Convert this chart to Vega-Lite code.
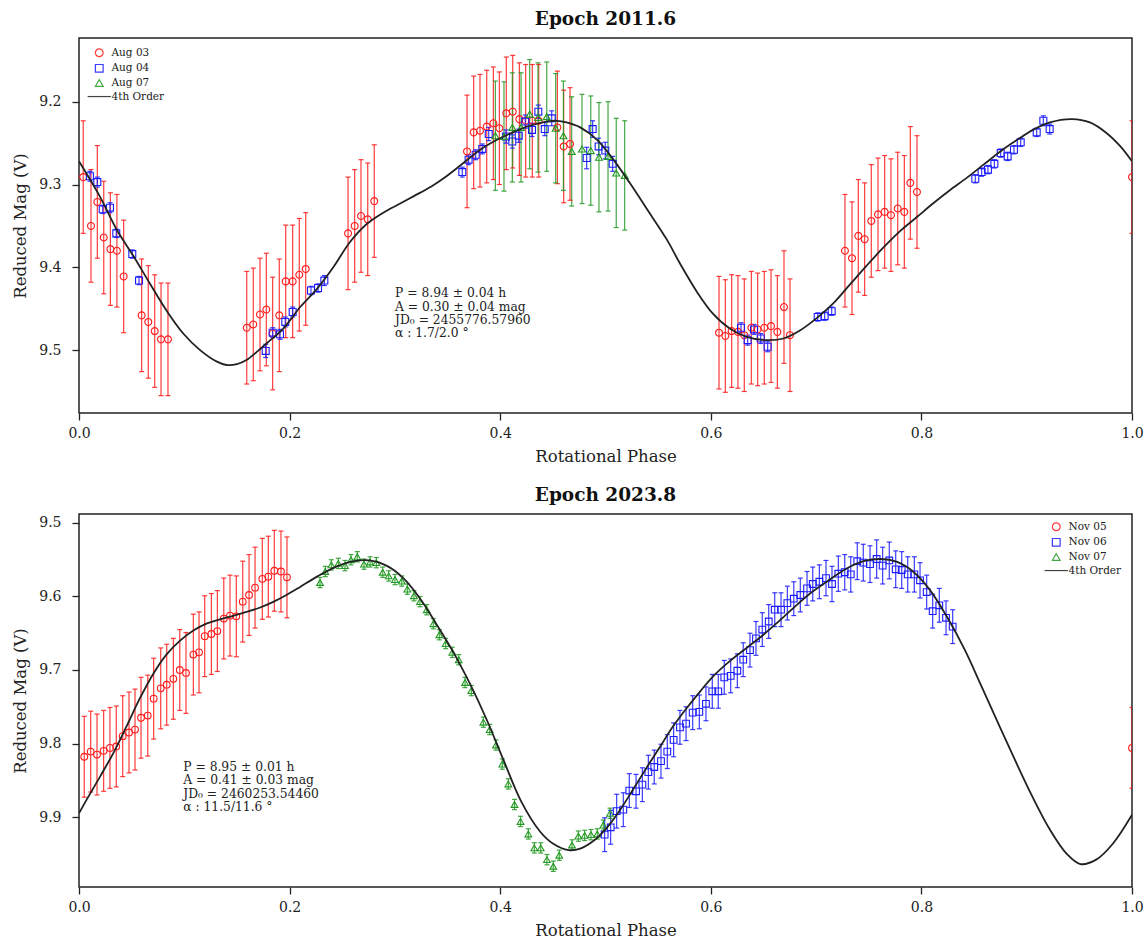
{
  "$schema": "https://vega.github.io/schema/vega-lite/v6.json",
  "background": "white",
  "padding": {"left": 11, "top": 8, "right": 5, "bottom": 5},
  "config": {
    "font": "DejaVu Serif",
    "view": {"stroke": "#222", "strokeWidth": 1.5},
    "axis": {"domain": false, "grid": false, "tickColor": "#222", "tickSize": 7, "tickWidth": 1.3, "labelFont": "DejaVu Serif", "labelFontSize": 14, "labelColor": "#222", "labelPadding": 6, "titleFont": "DejaVu Serif", "titleFontSize": 16.5, "titleFontWeight": "normal", "titleColor": "#222", "titlePadding": 8},
    "axisX": {"labelFlush": false},
    "axisY": {"labelPadding": 11, "titlePadding": 10},
    "title": {"font": "DejaVu Serif", "fontSize": 18.5, "fontWeight": "bold", "color": "#111", "offset": 10},
    "legend": {"labelFont": "DejaVu Serif", "labelFontSize": 10.5, "labelColor": "#222", "symbolSize": 60, "symbolStrokeWidth": 1.2, "rowPadding": 1.6, "labelOffset": 7, "padding": 0}
  },
  "datasets": {
    "obs2011": [
      {"label":"Aug 03","phase":0.004,"mag":9.291,"lo":9.223,"hi":9.359},
      {"label":"Aug 03","phase":0.0114,"mag":9.350,"lo":9.282,"hi":9.418},
      {"label":"Aug 03","phase":0.0174,"mag":9.321,"lo":9.253,"hi":9.389},
      {"label":"Aug 03","phase":0.0235,"mag":9.364,"lo":9.296,"hi":9.432},
      {"label":"Aug 03","phase":0.0298,"mag":9.378,"lo":9.310,"hi":9.446},
      {"label":"Aug 03","phase":0.036,"mag":9.380,"lo":9.312,"hi":9.448},
      {"label":"Aug 03","phase":0.0424,"mag":9.411,"lo":9.343,"hi":9.479},
      {"label":"Aug 03","phase":0.0595,"mag":9.458,"lo":9.390,"hi":9.526},
      {"label":"Aug 03","phase":0.0658,"mag":9.466,"lo":9.398,"hi":9.534},
      {"label":"Aug 03","phase":0.0719,"mag":9.477,"lo":9.409,"hi":9.545},
      {"label":"Aug 03","phase":0.0779,"mag":9.487,"lo":9.419,"hi":9.555},
      {"label":"Aug 03","phase":0.0845,"mag":9.487,"lo":9.419,"hi":9.555},
      {"label":"Aug 03","phase":0.1593,"mag":9.473,"lo":9.405,"hi":9.541},
      {"label":"Aug 03","phase":0.1655,"mag":9.469,"lo":9.401,"hi":9.537},
      {"label":"Aug 03","phase":0.1719,"mag":9.457,"lo":9.389,"hi":9.525},
      {"label":"Aug 03","phase":0.1779,"mag":9.451,"lo":9.383,"hi":9.519},
      {"label":"Aug 03","phase":0.1839,"mag":9.480,"lo":9.412,"hi":9.548},
      {"label":"Aug 03","phase":0.1902,"mag":9.458,"lo":9.390,"hi":9.526},
      {"label":"Aug 03","phase":0.1963,"mag":9.417,"lo":9.349,"hi":9.485},
      {"label":"Aug 03","phase":0.2029,"mag":9.417,"lo":9.349,"hi":9.485},
      {"label":"Aug 03","phase":0.2092,"mag":9.409,"lo":9.341,"hi":9.477},
      {"label":"Aug 03","phase":0.2153,"mag":9.402,"lo":9.334,"hi":9.470},
      {"label":"Aug 03","phase":0.2555,"mag":9.359,"lo":9.291,"hi":9.427},
      {"label":"Aug 03","phase":0.2618,"mag":9.350,"lo":9.282,"hi":9.418},
      {"label":"Aug 03","phase":0.2678,"mag":9.338,"lo":9.270,"hi":9.406},
      {"label":"Aug 03","phase":0.2742,"mag":9.342,"lo":9.274,"hi":9.410},
      {"label":"Aug 03","phase":0.2804,"mag":9.320,"lo":9.252,"hi":9.388},
      {"label":"Aug 03","phase":0.3685,"mag":9.260,"lo":9.192,"hi":9.328},
      {"label":"Aug 03","phase":0.3748,"mag":9.237,"lo":9.169,"hi":9.305},
      {"label":"Aug 03","phase":0.3808,"mag":9.235,"lo":9.167,"hi":9.303},
      {"label":"Aug 03","phase":0.3872,"mag":9.230,"lo":9.162,"hi":9.298},
      {"label":"Aug 03","phase":0.3935,"mag":9.226,"lo":9.158,"hi":9.294},
      {"label":"Aug 03","phase":0.3992,"mag":9.232,"lo":9.164,"hi":9.300},
      {"label":"Aug 03","phase":0.4058,"mag":9.214,"lo":9.146,"hi":9.282},
      {"label":"Aug 03","phase":0.4119,"mag":9.212,"lo":9.144,"hi":9.280},
      {"label":"Aug 03","phase":0.4182,"mag":9.221,"lo":9.153,"hi":9.289},
      {"label":"Aug 03","phase":0.4242,"mag":9.223,"lo":9.155,"hi":9.291},
      {"label":"Aug 03","phase":0.4305,"mag":9.223,"lo":9.155,"hi":9.291},
      {"label":"Aug 03","phase":0.4366,"mag":9.223,"lo":9.155,"hi":9.291},
      {"label":"Aug 03","phase":0.4543,"mag":9.231,"lo":9.163,"hi":9.299},
      {"label":"Aug 03","phase":0.4603,"mag":9.254,"lo":9.186,"hi":9.322},
      {"label":"Aug 03","phase":0.4663,"mag":9.251,"lo":9.183,"hi":9.319},
      {"label":"Aug 03","phase":0.6078,"mag":9.479,"lo":9.411,"hi":9.547},
      {"label":"Aug 03","phase":0.6138,"mag":9.483,"lo":9.415,"hi":9.551},
      {"label":"Aug 03","phase":0.6198,"mag":9.477,"lo":9.409,"hi":9.545},
      {"label":"Aug 03","phase":0.6258,"mag":9.478,"lo":9.410,"hi":9.546},
      {"label":"Aug 03","phase":0.6318,"mag":9.482,"lo":9.414,"hi":9.550},
      {"label":"Aug 03","phase":0.6385,"mag":9.473,"lo":9.405,"hi":9.541},
      {"label":"Aug 03","phase":0.6445,"mag":9.475,"lo":9.407,"hi":9.543},
      {"label":"Aug 03","phase":0.6508,"mag":9.473,"lo":9.405,"hi":9.541},
      {"label":"Aug 03","phase":0.6572,"mag":9.471,"lo":9.403,"hi":9.539},
      {"label":"Aug 03","phase":0.6632,"mag":9.478,"lo":9.410,"hi":9.546},
      {"label":"Aug 03","phase":0.6695,"mag":9.448,"lo":9.380,"hi":9.516},
      {"label":"Aug 03","phase":0.6752,"mag":9.482,"lo":9.414,"hi":9.550},
      {"label":"Aug 03","phase":0.7274,"mag":9.380,"lo":9.312,"hi":9.448},
      {"label":"Aug 03","phase":0.7341,"mag":9.389,"lo":9.321,"hi":9.457},
      {"label":"Aug 03","phase":0.7401,"mag":9.362,"lo":9.294,"hi":9.430},
      {"label":"Aug 03","phase":0.7461,"mag":9.366,"lo":9.298,"hi":9.434},
      {"label":"Aug 03","phase":0.7524,"mag":9.344,"lo":9.276,"hi":9.412},
      {"label":"Aug 03","phase":0.7588,"mag":9.336,"lo":9.268,"hi":9.404},
      {"label":"Aug 03","phase":0.7651,"mag":9.333,"lo":9.265,"hi":9.401},
      {"label":"Aug 03","phase":0.7711,"mag":9.337,"lo":9.269,"hi":9.405},
      {"label":"Aug 03","phase":0.7775,"mag":9.329,"lo":9.261,"hi":9.397},
      {"label":"Aug 03","phase":0.7838,"mag":9.333,"lo":9.265,"hi":9.401},
      {"label":"Aug 03","phase":0.7895,"mag":9.298,"lo":9.230,"hi":9.366},
      {"label":"Aug 03","phase":0.7958,"mag":9.309,"lo":9.241,"hi":9.377},
      {"label":"Aug 03","phase":1.0,"mag":9.291,"lo":9.223,"hi":9.359},
      {"label":"Aug 04","phase":0.0104,"mag":9.290,"lo":9.284,"hi":9.296},
      {"label":"Aug 04","phase":0.0174,"mag":9.297,"lo":9.291,"hi":9.303},
      {"label":"Aug 04","phase":0.0225,"mag":9.330,"lo":9.325,"hi":9.335},
      {"label":"Aug 04","phase":0.0294,"mag":9.328,"lo":9.322,"hi":9.334},
      {"label":"Aug 04","phase":0.0354,"mag":9.359,"lo":9.354,"hi":9.364},
      {"label":"Aug 04","phase":0.0506,"mag":9.384,"lo":9.379,"hi":9.389},
      {"label":"Aug 04","phase":0.0570,"mag":9.416,"lo":9.411,"hi":9.421},
      {"label":"Aug 04","phase":0.1773,"mag":9.501,"lo":9.493,"hi":9.509},
      {"label":"Aug 04","phase":0.1839,"mag":9.479,"lo":9.473,"hi":9.485},
      {"label":"Aug 04","phase":0.1909,"mag":9.481,"lo":9.475,"hi":9.487},
      {"label":"Aug 04","phase":0.1959,"mag":9.466,"lo":9.460,"hi":9.472},
      {"label":"Aug 04","phase":0.2029,"mag":9.454,"lo":9.448,"hi":9.460},
      {"label":"Aug 04","phase":0.2203,"mag":9.428,"lo":9.423,"hi":9.433},
      {"label":"Aug 04","phase":0.2270,"mag":9.425,"lo":9.420,"hi":9.430},
      {"label":"Aug 04","phase":0.2330,"mag":9.416,"lo":9.410,"hi":9.422},
      {"label":"Aug 04","phase":0.3640,"mag":9.285,"lo":9.279,"hi":9.291},
      {"label":"Aug 04","phase":0.3700,"mag":9.270,"lo":9.264,"hi":9.276},
      {"label":"Aug 04","phase":0.3767,"mag":9.264,"lo":9.258,"hi":9.270},
      {"label":"Aug 04","phase":0.3830,"mag":9.257,"lo":9.251,"hi":9.263},
      {"label":"Aug 04","phase":0.3891,"mag":9.239,"lo":9.231,"hi":9.247},
      {"label":"Aug 04","phase":0.4055,"mag":9.242,"lo":9.234,"hi":9.250},
      {"label":"Aug 04","phase":0.4115,"mag":9.248,"lo":9.240,"hi":9.256},
      {"label":"Aug 04","phase":0.4176,"mag":9.241,"lo":9.233,"hi":9.249},
      {"label":"Aug 04","phase":0.4238,"mag":9.224,"lo":9.216,"hi":9.232},
      {"label":"Aug 04","phase":0.4302,"mag":9.234,"lo":9.226,"hi":9.242},
      {"label":"Aug 04","phase":0.4362,"mag":9.212,"lo":9.204,"hi":9.220},
      {"label":"Aug 04","phase":0.4423,"mag":9.233,"lo":9.225,"hi":9.241},
      {"label":"Aug 04","phase":0.4489,"mag":9.220,"lo":9.211,"hi":9.229},
      {"label":"Aug 04","phase":0.4821,"mag":9.268,"lo":9.255,"hi":9.281},
      {"label":"Aug 04","phase":0.4878,"mag":9.233,"lo":9.223,"hi":9.243},
      {"label":"Aug 04","phase":0.4935,"mag":9.254,"lo":9.244,"hi":9.264},
      {"label":"Aug 04","phase":0.4998,"mag":9.259,"lo":9.249,"hi":9.269},
      {"label":"Aug 04","phase":0.5068,"mag":9.275,"lo":9.266,"hi":9.284},
      {"label":"Aug 04","phase":0.6287,"mag":9.473,"lo":9.467,"hi":9.479},
      {"label":"Aug 04","phase":0.6350,"mag":9.488,"lo":9.482,"hi":9.494},
      {"label":"Aug 04","phase":0.6410,"mag":9.475,"lo":9.469,"hi":9.481},
      {"label":"Aug 04","phase":0.6474,"mag":9.486,"lo":9.480,"hi":9.492},
      {"label":"Aug 04","phase":0.6540,"mag":9.496,"lo":9.490,"hi":9.502},
      {"label":"Aug 04","phase":0.7015,"mag":9.460,"lo":9.455,"hi":9.465},
      {"label":"Aug 04","phase":0.7081,"mag":9.459,"lo":9.454,"hi":9.464},
      {"label":"Aug 04","phase":0.7148,"mag":9.453,"lo":9.448,"hi":9.458},
      {"label":"Aug 04","phase":0.8512,"mag":9.293,"lo":9.288,"hi":9.298},
      {"label":"Aug 04","phase":0.8572,"mag":9.285,"lo":9.280,"hi":9.290},
      {"label":"Aug 04","phase":0.8632,"mag":9.282,"lo":9.277,"hi":9.287},
      {"label":"Aug 04","phase":0.8693,"mag":9.275,"lo":9.270,"hi":9.280},
      {"label":"Aug 04","phase":0.8753,"mag":9.262,"lo":9.257,"hi":9.267},
      {"label":"Aug 04","phase":0.8819,"mag":9.266,"lo":9.261,"hi":9.271},
      {"label":"Aug 04","phase":0.8879,"mag":9.258,"lo":9.253,"hi":9.263},
      {"label":"Aug 04","phase":0.8943,"mag":9.249,"lo":9.244,"hi":9.254},
      {"label":"Aug 04","phase":0.9095,"mag":9.237,"lo":9.232,"hi":9.242},
      {"label":"Aug 04","phase":0.9158,"mag":9.223,"lo":9.217,"hi":9.229},
      {"label":"Aug 04","phase":0.9218,"mag":9.233,"lo":9.227,"hi":9.239},
      {"label":"Aug 07","phase":0.3954,"mag":9.241,"lo":9.175,"hi":9.307},
      {"label":"Aug 07","phase":0.4036,"mag":9.242,"lo":9.176,"hi":9.308},
      {"label":"Aug 07","phase":0.4115,"mag":9.231,"lo":9.165,"hi":9.297},
      {"label":"Aug 07","phase":0.4198,"mag":9.231,"lo":9.165,"hi":9.297},
      {"label":"Aug 07","phase":0.4280,"mag":9.215,"lo":9.149,"hi":9.281},
      {"label":"Aug 07","phase":0.4359,"mag":9.219,"lo":9.153,"hi":9.285},
      {"label":"Aug 07","phase":0.4442,"mag":9.218,"lo":9.152,"hi":9.284},
      {"label":"Aug 07","phase":0.4527,"mag":9.232,"lo":9.166,"hi":9.298},
      {"label":"Aug 07","phase":0.4600,"mag":9.241,"lo":9.175,"hi":9.307},
      {"label":"Aug 07","phase":0.4679,"mag":9.260,"lo":9.194,"hi":9.326},
      {"label":"Aug 07","phase":0.4777,"mag":9.257,"lo":9.191,"hi":9.323},
      {"label":"Aug 07","phase":0.4860,"mag":9.259,"lo":9.193,"hi":9.325},
      {"label":"Aug 07","phase":0.4938,"mag":9.267,"lo":9.201,"hi":9.333},
      {"label":"Aug 07","phase":0.5024,"mag":9.266,"lo":9.200,"hi":9.332},
      {"label":"Aug 07","phase":0.5102,"mag":9.286,"lo":9.220,"hi":9.352},
      {"label":"Aug 07","phase":0.5182,"mag":9.289,"lo":9.223,"hi":9.355}
    ],
    "fit2011": [
      {"phase":0.000,"mag":9.272},{"phase":0.020,"mag":9.315},{"phase":0.036,"mag":9.355},{"phase":0.052,"mag":9.387},
      {"phase":0.067,"mag":9.419},{"phase":0.083,"mag":9.452},{"phase":0.099,"mag":9.480},{"phase":0.115,"mag":9.500},
      {"phase":0.131,"mag":9.514},{"phase":0.140,"mag":9.518},{"phase":0.150,"mag":9.517},{"phase":0.159,"mag":9.512},
      {"phase":0.170,"mag":9.501},{"phase":0.178,"mag":9.492},{"phase":0.194,"mag":9.474},{"phase":0.210,"mag":9.448},
      {"phase":0.226,"mag":9.426},{"phase":0.242,"mag":9.399},{"phase":0.257,"mag":9.370},{"phase":0.273,"mag":9.348},
      {"phase":0.289,"mag":9.334},{"phase":0.305,"mag":9.323},{"phase":0.318,"mag":9.314},{"phase":0.335,"mag":9.302},
      {"phase":0.349,"mag":9.290},{"phase":0.368,"mag":9.271},{"phase":0.381,"mag":9.258},{"phase":0.397,"mag":9.246},
      {"phase":0.412,"mag":9.237},{"phase":0.428,"mag":9.229},{"phase":0.444,"mag":9.224},{"phase":0.454,"mag":9.223},
      {"phase":0.463,"mag":9.225},{"phase":0.476,"mag":9.231},{"phase":0.492,"mag":9.246},{"phase":0.507,"mag":9.269},
      {"phase":0.523,"mag":9.298},{"phase":0.539,"mag":9.329},{"phase":0.558,"mag":9.366},{"phase":0.571,"mag":9.396},
      {"phase":0.587,"mag":9.430},{"phase":0.602,"mag":9.456},{"phase":0.618,"mag":9.474},{"phase":0.634,"mag":9.484},
      {"phase":0.653,"mag":9.488},{"phase":0.669,"mag":9.486},{"phase":0.685,"mag":9.476},{"phase":0.700,"mag":9.462},
      {"phase":0.716,"mag":9.444},{"phase":0.732,"mag":9.421},{"phase":0.748,"mag":9.398},{"phase":0.764,"mag":9.376},
      {"phase":0.780,"mag":9.356},{"phase":0.796,"mag":9.339},{"phase":0.811,"mag":9.323},{"phase":0.827,"mag":9.307},
      {"phase":0.843,"mag":9.292},{"phase":0.859,"mag":9.276},{"phase":0.875,"mag":9.260},{"phase":0.891,"mag":9.246},
      {"phase":0.906,"mag":9.234},{"phase":0.922,"mag":9.225},{"phase":0.943,"mag":9.221},{"phase":0.960,"mag":9.225},
      {"phase":0.976,"mag":9.238},{"phase":0.989,"mag":9.254},{"phase":1.000,"mag":9.272}
    ],
    "obs2023": [
      {"label":"Nov 05","phase":0.005,"mag":9.818,"lo":9.763,"hi":9.873},
      {"label":"Nov 05","phase":0.0111,"mag":9.811,"lo":9.756,"hi":9.866},
      {"label":"Nov 05","phase":0.0171,"mag":9.815,"lo":9.760,"hi":9.870},
      {"label":"Nov 05","phase":0.0234,"mag":9.810,"lo":9.755,"hi":9.865},
      {"label":"Nov 05","phase":0.0294,"mag":9.806,"lo":9.751,"hi":9.861},
      {"label":"Nov 05","phase":0.0354,"mag":9.804,"lo":9.749,"hi":9.859},
      {"label":"Nov 05","phase":0.0415,"mag":9.790,"lo":9.735,"hi":9.845},
      {"label":"Nov 05","phase":0.0475,"mag":9.785,"lo":9.730,"hi":9.840},
      {"label":"Nov 05","phase":0.0532,"mag":9.781,"lo":9.726,"hi":9.836},
      {"label":"Nov 05","phase":0.0589,"mag":9.765,"lo":9.710,"hi":9.820},
      {"label":"Nov 05","phase":0.0653,"mag":9.762,"lo":9.707,"hi":9.817},
      {"label":"Nov 05","phase":0.0709,"mag":9.739,"lo":9.684,"hi":9.794},
      {"label":"Nov 05","phase":0.0776,"mag":9.725,"lo":9.670,"hi":9.780},
      {"label":"Nov 05","phase":0.0833,"mag":9.720,"lo":9.665,"hi":9.775},
      {"label":"Nov 05","phase":0.0896,"mag":9.712,"lo":9.657,"hi":9.767},
      {"label":"Nov 05","phase":0.0957,"mag":9.700,"lo":9.645,"hi":9.755},
      {"label":"Nov 05","phase":0.1016,"mag":9.704,"lo":9.649,"hi":9.759},
      {"label":"Nov 05","phase":0.1086,"mag":9.679,"lo":9.624,"hi":9.734},
      {"label":"Nov 05","phase":0.1140,"mag":9.676,"lo":9.621,"hi":9.731},
      {"label":"Nov 05","phase":0.1194,"mag":9.654,"lo":9.599,"hi":9.709},
      {"label":"Nov 05","phase":0.1257,"mag":9.651,"lo":9.596,"hi":9.706},
      {"label":"Nov 05","phase":0.1314,"mag":9.647,"lo":9.592,"hi":9.702},
      {"label":"Nov 05","phase":0.1375,"mag":9.630,"lo":9.575,"hi":9.685},
      {"label":"Nov 05","phase":0.1434,"mag":9.626,"lo":9.571,"hi":9.681},
      {"label":"Nov 05","phase":0.1494,"mag":9.627,"lo":9.572,"hi":9.682},
      {"label":"Nov 05","phase":0.1555,"mag":9.607,"lo":9.552,"hi":9.662},
      {"label":"Nov 05","phase":0.1615,"mag":9.598,"lo":9.543,"hi":9.653},
      {"label":"Nov 05","phase":0.1672,"mag":9.588,"lo":9.533,"hi":9.643},
      {"label":"Nov 05","phase":0.1741,"mag":9.576,"lo":9.521,"hi":9.631},
      {"label":"Nov 05","phase":0.1798,"mag":9.573,"lo":9.518,"hi":9.628},
      {"label":"Nov 05","phase":0.1855,"mag":9.565,"lo":9.510,"hi":9.620},
      {"label":"Nov 05","phase":0.1918,"mag":9.566,"lo":9.511,"hi":9.621},
      {"label":"Nov 05","phase":0.1975,"mag":9.574,"lo":9.519,"hi":9.629},
      {"label":"Nov 05","phase":1.0,"mag":9.806,"lo":9.751,"hi":9.861},
      {"label":"Nov 07","phase":0.2289,"mag":9.581,"lo":9.574,"hi":9.588},
      {"label":"Nov 07","phase":0.2339,"mag":9.566,"lo":9.559,"hi":9.573},
      {"label":"Nov 07","phase":0.2396,"mag":9.557,"lo":9.550,"hi":9.564},
      {"label":"Nov 07","phase":0.2463,"mag":9.555,"lo":9.548,"hi":9.562},
      {"label":"Nov 07","phase":0.2526,"mag":9.558,"lo":9.551,"hi":9.565},
      {"label":"Nov 07","phase":0.2583,"mag":9.550,"lo":9.543,"hi":9.557},
      {"label":"Nov 07","phase":0.2643,"mag":9.546,"lo":9.539,"hi":9.553},
      {"label":"Nov 07","phase":0.2707,"mag":9.556,"lo":9.549,"hi":9.563},
      {"label":"Nov 07","phase":0.2764,"mag":9.553,"lo":9.546,"hi":9.560},
      {"label":"Nov 07","phase":0.2824,"mag":9.554,"lo":9.547,"hi":9.561},
      {"label":"Nov 07","phase":0.2884,"mag":9.567,"lo":9.560,"hi":9.574},
      {"label":"Nov 07","phase":0.2941,"mag":9.572,"lo":9.565,"hi":9.579},
      {"label":"Nov 07","phase":0.3001,"mag":9.577,"lo":9.570,"hi":9.584},
      {"label":"Nov 07","phase":0.3065,"mag":9.579,"lo":9.572,"hi":9.586},
      {"label":"Nov 07","phase":0.3118,"mag":9.590,"lo":9.583,"hi":9.597},
      {"label":"Nov 07","phase":0.3181,"mag":9.599,"lo":9.592,"hi":9.606},
      {"label":"Nov 07","phase":0.3238,"mag":9.607,"lo":9.600,"hi":9.614},
      {"label":"Nov 07","phase":0.3302,"mag":9.618,"lo":9.611,"hi":9.625},
      {"label":"Nov 07","phase":0.3365,"mag":9.637,"lo":9.630,"hi":9.644},
      {"label":"Nov 07","phase":0.3422,"mag":9.652,"lo":9.645,"hi":9.659},
      {"label":"Nov 07","phase":0.3482,"mag":9.664,"lo":9.657,"hi":9.671},
      {"label":"Nov 07","phase":0.3545,"mag":9.676,"lo":9.669,"hi":9.683},
      {"label":"Nov 07","phase":0.3606,"mag":9.686,"lo":9.679,"hi":9.693},
      {"label":"Nov 07","phase":0.3666,"mag":9.717,"lo":9.710,"hi":9.724},
      {"label":"Nov 07","phase":0.3726,"mag":9.728,"lo":9.721,"hi":9.735},
      {"label":"Nov 07","phase":0.3840,"mag":9.771,"lo":9.764,"hi":9.778},
      {"label":"Nov 07","phase":0.3900,"mag":9.781,"lo":9.774,"hi":9.788},
      {"label":"Nov 07","phase":0.3960,"mag":9.802,"lo":9.795,"hi":9.809},
      {"label":"Nov 07","phase":0.4020,"mag":9.828,"lo":9.821,"hi":9.835},
      {"label":"Nov 07","phase":0.4077,"mag":9.855,"lo":9.848,"hi":9.862},
      {"label":"Nov 07","phase":0.4136,"mag":9.883,"lo":9.876,"hi":9.890},
      {"label":"Nov 07","phase":0.4193,"mag":9.906,"lo":9.899,"hi":9.913},
      {"label":"Nov 07","phase":0.4267,"mag":9.923,"lo":9.916,"hi":9.930},
      {"label":"Nov 07","phase":0.4324,"mag":9.942,"lo":9.935,"hi":9.949},
      {"label":"Nov 07","phase":0.4385,"mag":9.942,"lo":9.935,"hi":9.949},
      {"label":"Nov 07","phase":0.4444,"mag":9.958,"lo":9.951,"hi":9.965},
      {"label":"Nov 07","phase":0.4504,"mag":9.967,"lo":9.960,"hi":9.974},
      {"label":"Nov 07","phase":0.4561,"mag":9.952,"lo":9.945,"hi":9.959},
      {"label":"Nov 07","phase":0.4682,"mag":9.938,"lo":9.931,"hi":9.945},
      {"label":"Nov 07","phase":0.4742,"mag":9.926,"lo":9.919,"hi":9.933},
      {"label":"Nov 07","phase":0.4802,"mag":9.925,"lo":9.918,"hi":9.932},
      {"label":"Nov 07","phase":0.4862,"mag":9.924,"lo":9.917,"hi":9.931},
      {"label":"Nov 07","phase":0.4922,"mag":9.923,"lo":9.916,"hi":9.930},
      {"label":"Nov 07","phase":0.4979,"mag":9.911,"lo":9.904,"hi":9.918},
      {"label":"Nov 07","phase":0.5043,"mag":9.895,"lo":9.888,"hi":9.902},
      {"label":"Nov 06","phase":0.4992,"mag":9.924,"lo":9.901,"hi":9.947},
      {"label":"Nov 06","phase":0.5049,"mag":9.914,"lo":9.891,"hi":9.937},
      {"label":"Nov 06","phase":0.5106,"mag":9.892,"lo":9.869,"hi":9.915},
      {"label":"Nov 06","phase":0.5169,"mag":9.890,"lo":9.867,"hi":9.913},
      {"label":"Nov 06","phase":0.5226,"mag":9.864,"lo":9.841,"hi":9.887},
      {"label":"Nov 06","phase":0.5290,"mag":9.865,"lo":9.842,"hi":9.888},
      {"label":"Nov 06","phase":0.5350,"mag":9.856,"lo":9.833,"hi":9.879},
      {"label":"Nov 06","phase":0.5407,"mag":9.839,"lo":9.816,"hi":9.862},
      {"label":"Nov 06","phase":0.5463,"mag":9.832,"lo":9.809,"hi":9.855},
      {"label":"Nov 06","phase":0.5527,"mag":9.824,"lo":9.801,"hi":9.847},
      {"label":"Nov 06","phase":0.5587,"mag":9.811,"lo":9.788,"hi":9.834},
      {"label":"Nov 06","phase":0.5647,"mag":9.795,"lo":9.772,"hi":9.818},
      {"label":"Nov 06","phase":0.5707,"mag":9.778,"lo":9.755,"hi":9.801},
      {"label":"Nov 06","phase":0.5765,"mag":9.773,"lo":9.750,"hi":9.796},
      {"label":"Nov 06","phase":0.5828,"mag":9.758,"lo":9.735,"hi":9.781},
      {"label":"Nov 06","phase":0.5891,"mag":9.757,"lo":9.734,"hi":9.780},
      {"label":"Nov 06","phase":0.5954,"mag":9.746,"lo":9.723,"hi":9.769},
      {"label":"Nov 06","phase":0.6014,"mag":9.729,"lo":9.706,"hi":9.752},
      {"label":"Nov 06","phase":0.6071,"mag":9.729,"lo":9.706,"hi":9.752},
      {"label":"Nov 06","phase":0.6128,"mag":9.710,"lo":9.687,"hi":9.733},
      {"label":"Nov 06","phase":0.6189,"mag":9.708,"lo":9.685,"hi":9.731},
      {"label":"Nov 06","phase":0.6252,"mag":9.701,"lo":9.678,"hi":9.724},
      {"label":"Nov 06","phase":0.6308,"mag":9.686,"lo":9.663,"hi":9.709},
      {"label":"Nov 06","phase":0.6372,"mag":9.673,"lo":9.650,"hi":9.696},
      {"label":"Nov 06","phase":0.6429,"mag":9.657,"lo":9.634,"hi":9.680},
      {"label":"Nov 06","phase":0.6489,"mag":9.645,"lo":9.622,"hi":9.668},
      {"label":"Nov 06","phase":0.6550,"mag":9.634,"lo":9.611,"hi":9.657},
      {"label":"Nov 06","phase":0.6607,"mag":9.618,"lo":9.595,"hi":9.641},
      {"label":"Nov 06","phase":0.6667,"mag":9.618,"lo":9.595,"hi":9.641},
      {"label":"Nov 06","phase":0.6727,"mag":9.609,"lo":9.586,"hi":9.632},
      {"label":"Nov 06","phase":0.6788,"mag":9.603,"lo":9.580,"hi":9.626},
      {"label":"Nov 06","phase":0.6850,"mag":9.598,"lo":9.575,"hi":9.621},
      {"label":"Nov 06","phase":0.6914,"mag":9.589,"lo":9.566,"hi":9.612},
      {"label":"Nov 06","phase":0.6968,"mag":9.583,"lo":9.560,"hi":9.606},
      {"label":"Nov 06","phase":0.7031,"mag":9.580,"lo":9.557,"hi":9.603},
      {"label":"Nov 06","phase":0.7094,"mag":9.575,"lo":9.551,"hi":9.599},
      {"label":"Nov 06","phase":0.7151,"mag":9.583,"lo":9.559,"hi":9.607},
      {"label":"Nov 06","phase":0.7211,"mag":9.569,"lo":9.545,"hi":9.593},
      {"label":"Nov 06","phase":0.7272,"mag":9.567,"lo":9.543,"hi":9.591},
      {"label":"Nov 06","phase":0.7329,"mag":9.570,"lo":9.546,"hi":9.594},
      {"label":"Nov 06","phase":0.7391,"mag":9.552,"lo":9.527,"hi":9.577},
      {"label":"Nov 06","phase":0.7448,"mag":9.554,"lo":9.529,"hi":9.579},
      {"label":"Nov 06","phase":0.7512,"mag":9.556,"lo":9.531,"hi":9.581},
      {"label":"Nov 06","phase":0.7575,"mag":9.549,"lo":9.523,"hi":9.575},
      {"label":"Nov 06","phase":0.7632,"mag":9.558,"lo":9.533,"hi":9.583},
      {"label":"Nov 06","phase":0.7695,"mag":9.551,"lo":9.526,"hi":9.576},
      {"label":"Nov 06","phase":0.7756,"mag":9.563,"lo":9.538,"hi":9.588},
      {"label":"Nov 06","phase":0.7813,"mag":9.564,"lo":9.539,"hi":9.589},
      {"label":"Nov 06","phase":0.7870,"mag":9.570,"lo":9.546,"hi":9.594},
      {"label":"Nov 06","phase":0.7933,"mag":9.570,"lo":9.546,"hi":9.594},
      {"label":"Nov 06","phase":0.7987,"mag":9.578,"lo":9.554,"hi":9.602},
      {"label":"Nov 06","phase":0.8050,"mag":9.594,"lo":9.571,"hi":9.617},
      {"label":"Nov 06","phase":0.8107,"mag":9.620,"lo":9.597,"hi":9.643},
      {"label":"Nov 06","phase":0.8170,"mag":9.612,"lo":9.589,"hi":9.635},
      {"label":"Nov 06","phase":0.8234,"mag":9.629,"lo":9.606,"hi":9.652},
      {"label":"Nov 06","phase":0.8297,"mag":9.641,"lo":9.618,"hi":9.664}
    ],
    "fit2023": [
      {"phase":0.000,"mag":9.895},{"phase":0.007,"mag":9.877},{"phase":0.020,"mag":9.845},{"phase":0.033,"mag":9.812},
      {"phase":0.045,"mag":9.777},{"phase":0.058,"mag":9.738},{"phase":0.071,"mag":9.704},{"phase":0.083,"mag":9.679},
      {"phase":0.096,"mag":9.660},{"phase":0.109,"mag":9.646},{"phase":0.121,"mag":9.637},{"phase":0.134,"mag":9.631},
      {"phase":0.147,"mag":9.626},{"phase":0.159,"mag":9.621},{"phase":0.172,"mag":9.615},{"phase":0.185,"mag":9.607},
      {"phase":0.197,"mag":9.598},{"phase":0.210,"mag":9.587},{"phase":0.226,"mag":9.573},{"phase":0.245,"mag":9.559},
      {"phase":0.261,"mag":9.552},{"phase":0.276,"mag":9.551},{"phase":0.292,"mag":9.558},{"phase":0.308,"mag":9.575},
      {"phase":0.324,"mag":9.603},{"phase":0.340,"mag":9.639},{"phase":0.356,"mag":9.677},{"phase":0.371,"mag":9.718},
      {"phase":0.387,"mag":9.767},{"phase":0.403,"mag":9.822},{"phase":0.420,"mag":9.879},{"phase":0.438,"mag":9.920},
      {"phase":0.450,"mag":9.936},{"phase":0.465,"mag":9.945},{"phase":0.476,"mag":9.943},{"phase":0.489,"mag":9.932},
      {"phase":0.501,"mag":9.915},{"phase":0.514,"mag":9.890},{"phase":0.526,"mag":9.863},{"phase":0.539,"mag":9.833},
      {"phase":0.552,"mag":9.804},{"phase":0.564,"mag":9.777},{"phase":0.577,"mag":9.752},{"phase":0.590,"mag":9.729},
      {"phase":0.602,"mag":9.709},{"phase":0.618,"mag":9.688},{"phase":0.634,"mag":9.670},{"phase":0.650,"mag":9.652},
      {"phase":0.666,"mag":9.632},{"phase":0.682,"mag":9.611},{"phase":0.697,"mag":9.593},{"phase":0.713,"mag":9.577},
      {"phase":0.729,"mag":9.562},{"phase":0.745,"mag":9.552},{"phase":0.761,"mag":9.549},{"phase":0.777,"mag":9.553},
      {"phase":0.792,"mag":9.566},{"phase":0.808,"mag":9.591},{"phase":0.824,"mag":9.627},{"phase":0.841,"mag":9.672},
      {"phase":0.857,"mag":9.722},{"phase":0.875,"mag":9.779},{"phase":0.891,"mag":9.829},{"phase":0.906,"mag":9.874},
      {"phase":0.922,"mag":9.917},{"phase":0.938,"mag":9.950},{"phase":0.951,"mag":9.964},{"phase":0.966,"mag":9.958},
      {"phase":0.982,"mag":9.936},{"phase":1.000,"mag":9.897}
    ]
  },
  "spacing": 18,
  "resolve": {"scale": {"color": "independent", "shape": "independent"}, "legend": {"color": "independent", "shape": "independent"}},
  "vconcat": [
    {
      "title": "Epoch 2011.6",
      "width": 1053,
      "height": 375,
      "layer": [
        {
          "data": {"name": "obs2011"},
          "mark": {"type": "rule", "strokeWidth": 1.2, "opacity": 0.85, "clip": true},
          "encoding": {
            "x": {"field": "phase", "type": "quantitative", "scale": {"domain": [0, 1], "nice": false, "zero": false}, "axis": {"values": [0, 0.2, 0.4, 0.6, 0.8, 1.0], "format": ".1f", "title": "Rotational Phase"}},
            "y": {"field": "lo", "type": "quantitative", "scale": {"domain": [9.123, 9.576], "reverse": true, "nice": false, "zero": false}, "axis": {"values": [9.2, 9.3, 9.4, 9.5], "format": ".1f", "title": "Reduced Mag (V)"}},
            "y2": {"field": "hi"},
            "color": {"field": "label", "type": "nominal", "scale": {"domain": ["Aug 03", "Aug 04", "Aug 07", "4th Order"], "range": ["#ff1a1a", "#1a1aff", "#229922", "#222222"]}}
          }
        },
        {
          "data": {"name": "obs2011"},
          "mark": {"type": "rule", "strokeWidth": 1.2, "opacity": 0.85, "xOffset": -2.5, "x2Offset": 2.5, "clip": true},
          "encoding": {
            "x": {"field": "phase", "type": "quantitative"},
            "x2": {"field": "phase"},
            "y": {"field": "lo", "type": "quantitative"},
            "color": {"field": "label", "type": "nominal"}
          }
        },
        {
          "data": {"name": "obs2011"},
          "mark": {"type": "rule", "strokeWidth": 1.2, "opacity": 0.85, "xOffset": -2.5, "x2Offset": 2.5, "clip": true},
          "encoding": {
            "x": {"field": "phase", "type": "quantitative"},
            "x2": {"field": "phase"},
            "y": {"field": "hi", "type": "quantitative"},
            "color": {"field": "label", "type": "nominal"}
          }
        },
        {
          "data": {"name": "obs2011"},
          "mark": {"type": "point", "filled": false, "size": 48, "strokeWidth": 1.1, "opacity": 1, "clip": true},
          "encoding": {
            "x": {"field": "phase", "type": "quantitative"},
            "y": {"field": "mag", "type": "quantitative"},
            "color": {"field": "label", "type": "nominal", "legend": {"title": null, "orient": "none", "legendX": 15, "legendY": 9.5, "symbolOpacity": 1}},
            "shape": {"field": "label", "type": "nominal", "scale": {"domain": ["Aug 03", "Aug 04", "Aug 07", "4th Order"], "range": ["circle", "square", "triangle-up", "M-3,0L3,0"]}, "legend": {"title": null, "orient": "none", "legendX": 15, "legendY": 9.5}}
          }
        },
        {
          "data": {"name": "fit2011"},
          "mark": {"type": "line", "color": "#222222", "strokeWidth": 1.8, "interpolate": "catmull-rom", "clip": true},
          "encoding": {
            "x": {"field": "phase", "type": "quantitative"},
            "y": {"field": "mag", "type": "quantitative"}
          }
        },
        {
          "data": {"values": [{}]},
          "mark": {"type": "text", "align": "left", "baseline": "alphabetic", "font": "DejaVu Serif", "fontSize": 12.3, "lineHeight": 13.3, "color": "#222", "text": ["P = 8.94 ± 0.04 h", "A = 0.30 ± 0.04 mag", "JD₀ = 2455776.57960", "α : 1.7/2.0 °"]},
          "encoding": {
            "x": {"datum": 0.3001, "type": "quantitative"},
            "y": {"datum": 9.4362, "type": "quantitative"}
          }
        }
      ]
    },
    {
      "title": "Epoch 2023.8",
      "width": 1053,
      "height": 373,
      "layer": [
        {
          "data": {"name": "obs2023"},
          "mark": {"type": "rule", "strokeWidth": 1.2, "opacity": 0.85, "clip": true},
          "encoding": {
            "x": {"field": "phase", "type": "quantitative", "scale": {"domain": [0, 1], "nice": false, "zero": false}, "axis": {"values": [0, 0.2, 0.4, 0.6, 0.8, 1.0], "format": ".1f", "title": "Rotational Phase"}},
            "y": {"field": "lo", "type": "quantitative", "scale": {"domain": [9.4878, 9.9952], "reverse": true, "nice": false, "zero": false}, "axis": {"values": [9.5, 9.6, 9.7, 9.8, 9.9], "format": ".1f", "title": "Reduced Mag (V)"}},
            "y2": {"field": "hi"},
            "color": {"field": "label", "type": "nominal", "scale": {"domain": ["Nov 05", "Nov 06", "Nov 07", "4th Order"], "range": ["#ff1a1a", "#1a1aff", "#229922", "#222222"]}}
          }
        },
        {
          "data": {"name": "obs2023"},
          "mark": {"type": "rule", "strokeWidth": 1.2, "opacity": 0.85, "xOffset": -2.5, "x2Offset": 2.5, "clip": true},
          "encoding": {
            "x": {"field": "phase", "type": "quantitative"},
            "x2": {"field": "phase"},
            "y": {"field": "lo", "type": "quantitative"},
            "color": {"field": "label", "type": "nominal"}
          }
        },
        {
          "data": {"name": "obs2023"},
          "mark": {"type": "rule", "strokeWidth": 1.2, "opacity": 0.85, "xOffset": -2.5, "x2Offset": 2.5, "clip": true},
          "encoding": {
            "x": {"field": "phase", "type": "quantitative"},
            "x2": {"field": "phase"},
            "y": {"field": "hi", "type": "quantitative"},
            "color": {"field": "label", "type": "nominal"}
          }
        },
        {
          "data": {"name": "obs2023"},
          "mark": {"type": "point", "filled": false, "size": 45, "strokeWidth": 1.1, "opacity": 1, "clip": true},
          "encoding": {
            "x": {"field": "phase", "type": "quantitative"},
            "y": {"field": "mag", "type": "quantitative"},
            "color": {"field": "label", "type": "nominal", "legend": {"title": null, "orient": "none", "legendX": 972, "legendY": 7.5, "symbolOpacity": 1}},
            "shape": {"field": "label", "type": "nominal", "scale": {"domain": ["Nov 05", "Nov 06", "Nov 07", "4th Order"], "range": ["circle", "square", "triangle-up", "M-3,0L3,0"]}, "legend": {"title": null, "orient": "none", "legendX": 972, "legendY": 7.5}}
          }
        },
        {
          "data": {"name": "fit2023"},
          "mark": {"type": "line", "color": "#222222", "strokeWidth": 1.8, "interpolate": "catmull-rom", "clip": true},
          "encoding": {
            "x": {"field": "phase", "type": "quantitative"},
            "y": {"field": "mag", "type": "quantitative"}
          }
        },
        {
          "data": {"values": [{}]},
          "mark": {"type": "text", "align": "left", "baseline": "alphabetic", "font": "DejaVu Serif", "fontSize": 12.3, "lineHeight": 13.5, "color": "#222", "text": ["P = 8.95 ± 0.01 h", "A = 0.41 ± 0.03 mag", "JD₀ = 2460253.54460", "α : 11.5/11.6 °"]},
          "encoding": {
            "x": {"datum": 0.099, "type": "quantitative"},
            "y": {"datum": 9.837, "type": "quantitative"}
          }
        }
      ]
    }
  ]
}
